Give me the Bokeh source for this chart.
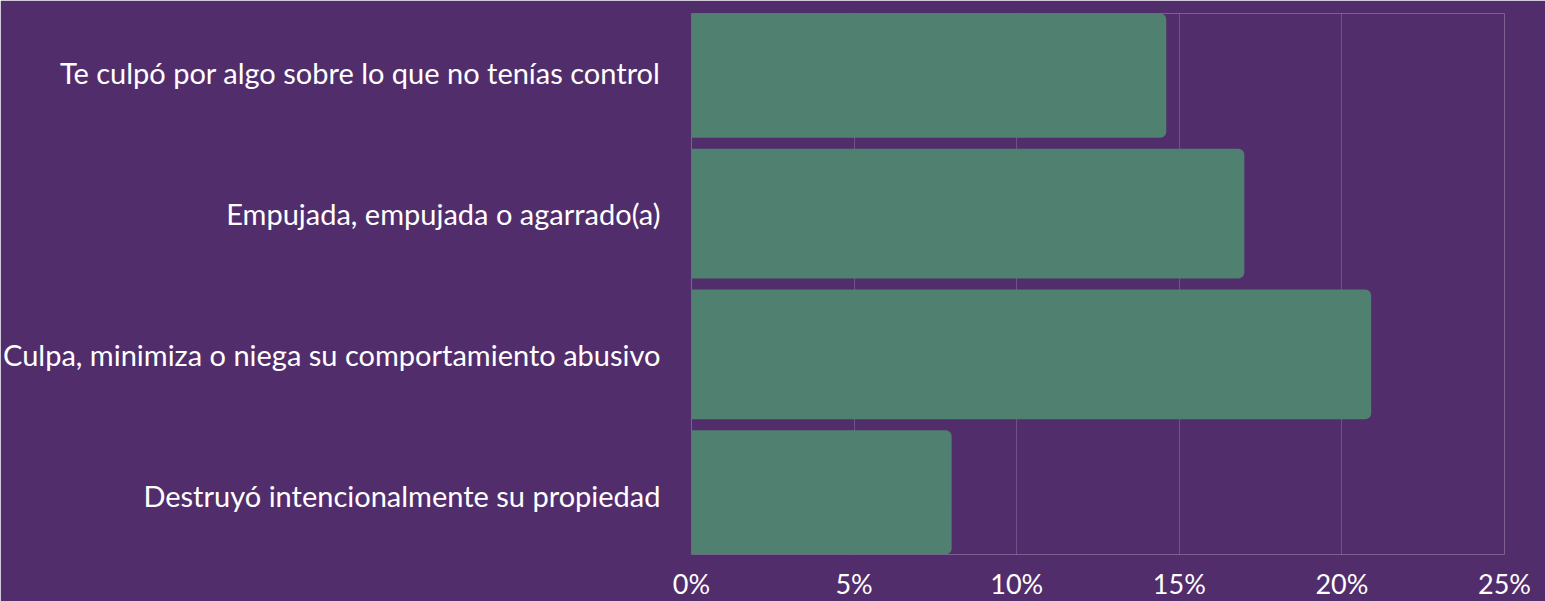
from bokeh.plotting import figure
from bokeh.models import FactorRange, Range1d, FixedTicker, PrintfTickFormatter, ColumnDataSource
from bokeh.embed import file_html
from bokeh.resources import INLINE

categories = [
    "Te culpó por algo sobre lo que no tenías control",
    "Empujada, empujada o agarrado(a)",
    "Culpa, minimiza o niega su comportamiento abusivo",
    "Destruyó intencionalmente su propiedad",
]
values = [14.6, 17.0, 20.9, 8.0]
x_ticks = [0, 5, 10, 15, 20, 25]

BG = "#522D6C"
BAR = "#50806F"
FONT = "Lato"

factors = list(reversed(categories))
src = ColumnDataSource(dict(cat=categories, val=values))

p = figure(
    frame_width=813, frame_height=541,
    y_range=FactorRange(factors=factors, range_padding=-0.078, range_padding_units="absolute"),
    x_range=Range1d(0, 25),
    output_backend="svg", toolbar_location=None,
    min_border_left=690, min_border_right=42, min_border_top=13, min_border_bottom=5,
    background_fill_color=BG, border_fill_color=BG,
)
p.outline_line_color = None
p.outline_line_alpha = 0

p.hbar(y="cat", right="val", left=0, height=0.922, source=src,
       fill_color=BAR, line_color=None, border_radius=(0, 6, 6, 0))

p.xaxis.ticker = FixedTicker(ticks=x_ticks)
p.xaxis.formatter = PrintfTickFormatter(format="%d%%")
p.xaxis.axis_line_color = None
p.xaxis.major_tick_line_color = None
p.xaxis.minor_tick_line_color = None
p.xaxis.major_label_text_color = "white"
p.xaxis.major_label_text_font = FONT
p.xaxis.major_label_text_font_size = "27px"
p.xaxis.major_label_standoff = 6

p.yaxis.axis_line_color = None
p.yaxis.major_tick_line_color = None
p.yaxis.minor_tick_line_color = None
p.yaxis.major_label_text_color = "white"
p.yaxis.major_label_text_font = FONT
p.yaxis.major_label_text_font_size = "29px"
p.yaxis.major_label_standoff = 25

p.xgrid.grid_line_color = "white"
p.xgrid.grid_line_alpha = 0.18
p.xgrid.grid_line_width = 1
p.ygrid.grid_line_color = None

open("out.html", "w").write(file_html(p, INLINE))
